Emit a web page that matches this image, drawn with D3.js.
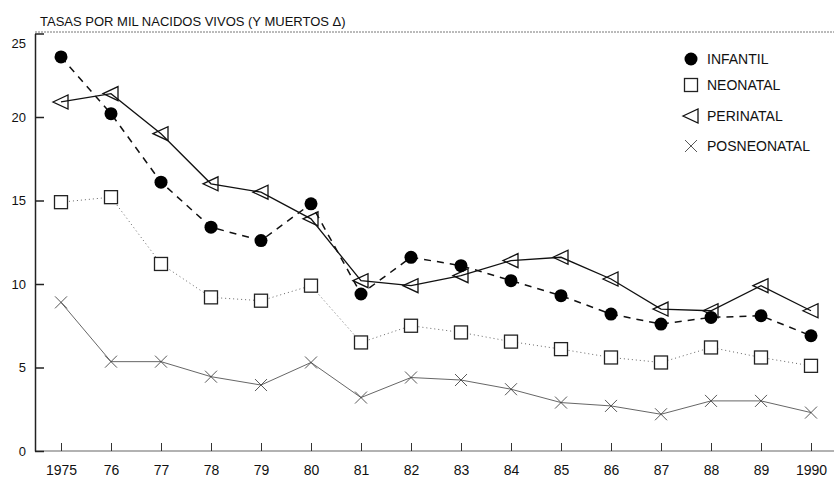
<!DOCTYPE html>
<html>
<head>
<meta charset="utf-8">
<script src="https://d3js.org/d3.v7.min.js"></script>
<style>
body { margin: 0; background: #fff; }
svg { display: block; font-family: "Liberation Sans", Arial, sans-serif; }
.axis path, .axis line { stroke: #222; }
.axis text { font-size: 13px; fill: #111; }
</style>
<title>Tasas por mil nacidos vivos</title>
</head>
<body>
<script>
var years = [1975, 1976, 1977, 1978, 1979, 1980, 1981, 1982, 1983, 1984, 1985, 1986, 1987, 1988, 1989, 1990];
var yearLabels = ["1975", "76", "77", "78", "79", "80", "81", "82", "83", "84", "85", "86", "87", "88", "89", "1990"];
var yTicks = [0, 5, 10, 15, 20, 25];

var infantil    = [23.6, 20.2, 16.1, 13.4, 12.6, 14.8, 9.4, 11.6, 11.1, 10.2, 9.3, 8.2, 7.6, 8.0, 8.1, 6.9];
var neonatal    = [14.9, 15.2, 11.2, 9.2, 9.0, 9.9, 6.5, 7.5, 7.1, 6.55, 6.1, 5.6, 5.3, 6.2, 5.6, 5.1];
var perinatal   = [20.9, 21.4, 19.0, 16.0, 15.5, 13.9, 10.2, 9.9, 10.5, 11.4, 11.6, 10.3, 8.5, 8.4, 9.9, 8.4];
var posneonatal = [8.9, 5.35, 5.35, 4.45, 3.95, 5.3, 3.2, 4.4, 4.25, 3.7, 2.9, 2.7, 2.2, 3.0, 3.0, 2.3];

var seriesNames = ["INFANTIL", "NEONATAL", "PERINATAL", "POSNEONATAL"];
var title = "TASAS POR MIL NACIDOS VIVOS (Y MUERTOS \u0394)";

var width = 834, height = 477;
var plotLeft = 35, plotTop = 33.5, plotBottom = 451, plotRight = 834;

var svg = d3.select("body").append("svg")
    .attr("width", width)
    .attr("height", height);

var x = d3.scaleLinear().domain([1975, 1990]).range([61, 811]);
var y = d3.scaleLinear().domain([0, 25]).range([plotBottom, plotTop]);

// title
svg.append("text")
    .attr("x", 40)
    .attr("y", 25.5)
    .style("font-size", "13px")
    .style("fill", "#111")
    .text(title);

// top frame line
svg.append("line")
    .attr("x1", plotLeft).attr("x2", plotRight)
    .attr("y1", plotTop - 1.5).attr("y2", plotTop - 1.5)
    .style("stroke", "#777")
    .style("stroke-width", 1)
    .style("stroke-dasharray", "2,1");

// bottom line
svg.append("line")
    .attr("x1", plotLeft).attr("x2", plotRight)
    .attr("y1", plotBottom).attr("y2", plotBottom)
    .style("stroke", "#666")
    .style("stroke-width", 1.2);

var yAxis = svg.append("g")
    .attr("class", "axis")
    .attr("transform", "translate(" + plotLeft + ",0)")
    .call(d3.axisLeft(y).tickValues(yTicks).tickSizeInner(-9).tickSizeOuter(0).tickPadding(9));
yAxis.select(".domain").style("stroke-width", 1.5);
yAxis.selectAll(".tick line").style("stroke-width", 1.5);
yAxis.selectAll(".tick").filter(function(d) { return d === 25; })
    .select("text").attr("dy", "1.1em");

var xAxis = svg.append("g")
    .attr("class", "axis")
    .attr("transform", "translate(0," + plotBottom + ")")
    .call(d3.axisBottom(x).tickValues(years).tickSizeInner(-8).tickSizeOuter(0).tickPadding(14)
      .tickFormat(function(d, i) { return yearLabels[i]; }));
xAxis.select(".domain").remove();
xAxis.selectAll(".tick line").style("stroke", "#333");
xAxis.selectAll(".tick text").style("font-size", "14px");

var line = d3.line()
    .x(function(d, i) { return x(years[i]); })
    .y(function(d) { return y(d); });

function drawLine(data, color, w, dash) {
  svg.append("path")
      .datum(data)
      .attr("d", line)
      .style("fill", "none")
      .style("stroke", color)
      .style("stroke-width", w)
      .style("stroke-dasharray", dash);
}

drawLine(posneonatal, "#555", 0.9, null);
drawLine(neonatal, "#666", 1, "1,3");
drawLine(perinatal, "#111", 1.3, null);
drawLine(infantil, "#111", 1.5, "7,6");

function square(g) {
  g.append("rect").attr("x", -6.5).attr("y", -6.5).attr("width", 13).attr("height", 13)
      .style("fill", "#fff").style("stroke", "#222").style("stroke-width", 1.3);
}
function triangle(g) {
  g.append("path").attr("d", "M-8,0L7,-7L7,7Z")
      .style("fill", "none").style("stroke", "#111").style("stroke-width", 1.3);
}
function cross(g) {
  g.append("path").attr("d", "M-6,-6L6,6M-6,6L6,-6")
      .style("fill", "none").style("stroke", "#444").style("stroke-width", 0.9);
}
function dot(g) {
  g.append("circle").attr("r", 6.5).style("fill", "#000");
}

function drawMarks(data, shape) {
  svg.append("g").selectAll("g")
      .data(data)
    .enter().append("g")
      .attr("transform", function(d, i) { return "translate(" + x(years[i]) + "," + y(d) + ")"; })
      .each(function() { shape(d3.select(this)); });
}

drawMarks(posneonatal, cross);
drawMarks(neonatal, square);
drawMarks(perinatal, triangle);
drawMarks(infantil, dot);

// legend
var shapes = [dot, square, triangle, cross];
var legendY = [59, 85, 116, 146];
var legend = svg.append("g").selectAll("g")
    .data(seriesNames)
  .enter().append("g")
    .attr("transform", function(d, i) { return "translate(691," + legendY[i] + ")"; });
legend.each(function(d, i) { shapes[i](d3.select(this)); });
legend.append("text")
    .attr("x", 16)
    .attr("dy", "0.36em")
    .style("font-size", "14px")
    .style("fill", "#111")
    .text(function(d) { return d; });
</script>
</body>
</html>
